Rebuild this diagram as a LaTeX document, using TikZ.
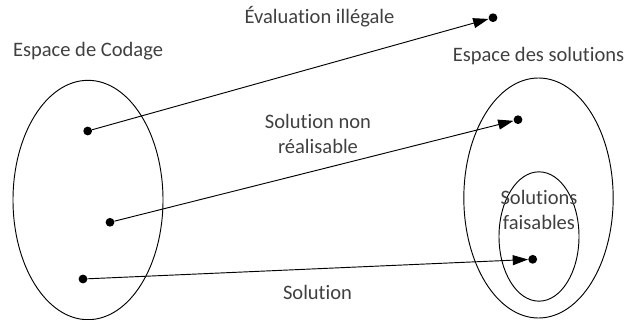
\documentclass[tikz,border=0pt]{standalone}
\usepackage{fontspec}
\setmainfont[Ligatures=NoCommon]{Carlito}
\usetikzlibrary{arrows.meta,shapes.geometric}
\definecolor{labelgrey}{HTML}{404040}
\tikzset{
  region/.style={draw=black,line width=0.7pt,ellipse,inner sep=0pt,outer sep=0pt},
  pt/.style={circle,fill=black,inner sep=0pt,minimum size=6.6pt},
  lab/.style={font=\fontsize{15.4pt}{18.7pt}\selectfont,align=center,inner sep=0pt,text=labelgrey},
  conn/.style={draw=black,line width=0.7pt,-{Triangle[length=11.5pt,width=7.5pt]}}
}
\begin{document}
\begin{tikzpicture}[x=0.75pt,y=-0.75pt]
\useasboundingbox (0,0) rectangle (625,320);
\node[region,minimum width=112.5pt,minimum height=179.5pt] (codage) at (88,200) {};
\node[region,minimum width=112pt,minimum height=180pt] (sol) at (538.5,198) {};
\node[region,minimum width=60pt,minimum height=97pt] (fais) at (539,236.5) {};
\node[pt] (a1) at (87.7,131) {};
\node[pt] (a2) at (110,222.3) {};
\node[pt] (a3) at (83,279) {};
\node[pt] (b1) at (493,17.7) {};
\node[pt] (b2) at (518,119.7) {};
\node[pt] (b3) at (532.7,259.3) {};
\draw[conn] (a1) -- (b1);
\draw[conn] (a2) -- (b2);
\draw[conn] (a3) -- (b3);
\node[lab] (t1) at (319.5,17) {Évaluation illégale};
\node[lab] (t2) at (88,51) {Espace de Codage};
\node[lab] (t3) at (538.5,56) {Espace des solutions};
\node[lab] (t4) at (318,134) {Solution non\\réalisable};
\node[lab] (t5) at (539,210) {Solutions\\faisables};
\node[lab] (t6) at (317.5,292) {Solution};
\end{tikzpicture}
\end{document}
